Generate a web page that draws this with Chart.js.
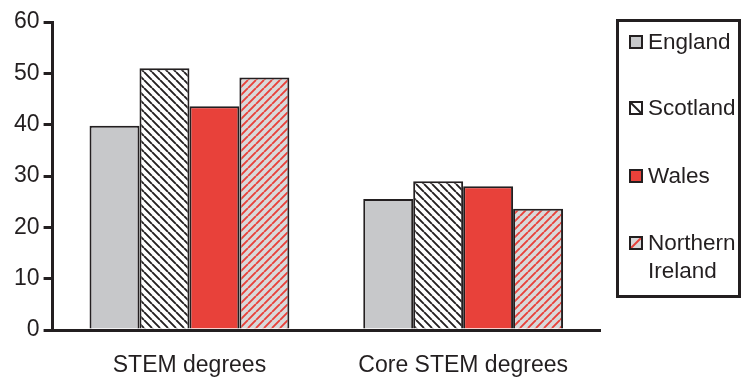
<!DOCTYPE html>
<html lang="en">
<head>
    <meta charset="UTF-8">
    <title>STEM degrees by nation</title>
    <style>
        body { margin: 0; background: #fff; font-family: "Liberation Sans", Arial, sans-serif; }
        .chartBox { position: absolute; left: 0; top: 0; width: 742px; height: 378px; }
        .legendBox {
            position: absolute; left: 616px; top: 19px; width: 119px; height: 273px;
            border: 3px solid #231f20; color: #231f20; font-size: 22.5px;
        }
        .item { position: absolute; left: 10px; display: flex; align-items: flex-start; line-height: 28px; }
        .item canvas { margin-top: 7px; margin-right: 5px; flex: none; }
    </style>
</head>
<body>
<div class="chartBox">
    <canvas id="myChart" width="742" height="378"></canvas>
</div>
<div class="legendBox" id="legend"></div>
<script src="https://cdn.jsdelivr.net/npm/chart.js"></script>
<script>
    const categories = ['STEM degrees', 'Core STEM degrees'];
    const england = [39.8, 25.5];
    const scotland = [51.0, 29.0];
    const wales = [43.6, 28.0];
    const northernIreland = [49.2, 23.6];
    const yTicks = [0, 10, 20, 30, 40, 50, 60];

    const ink = '#231f20';
    const red = '#e8413a';

    // diagonal hatch fill: dir 1 = "\" , dir -1 = "/"
    function hatch(bg, line, dir) {
        const s = 8;
        const c = document.createElement('canvas');
        c.width = s; c.height = s;
        const g = c.getContext('2d');
        g.fillStyle = bg;
        g.fillRect(0, 0, s, s);
        g.strokeStyle = line;
        g.lineWidth = 1.9;
        g.beginPath();
        for (let k = -1; k <= 1; k++) {
            if (dir > 0) {
                g.moveTo(k * s, 0); g.lineTo(k * s + s, s);
            } else {
                g.moveTo(k * s + s, 0); g.lineTo(k * s, s);
            }
        }
        g.stroke();
        return g.createPattern(c, 'repeat');
    }

    const fills = {
        England: '#c7c8ca',
        Scotland: hatch('#ffffff', ink, 1),
        Wales: red,
        'Northern Ireland': hatch('#d9d9da', red, -1)
    };

    // legend swatch look: background, line colour, direction
    const swatches = [
        ['#c7c8ca', null, 0],
        ['#ffffff', ink, 1],
        [red, null, 0],
        ['#d9d9da', red, -1]
    ];

    const data = {
        labels: categories,
        datasets: [
            { label: 'England', data: england },
            { label: 'Scotland', data: scotland },
            { label: 'Wales', data: wales },
            { label: 'Northern Ireland', data: northernIreland }
        ].map(d => Object.assign(d, {
            backgroundColor: fills[d.label],
            borderColor: ink,
            borderWidth: 2,
            borderSkipped: 'bottom',
            categoryPercentage: 0.73,
            barPercentage: 1
        }))
    };

    const font = { family: 'Liberation Sans', size: 23 };

    const config = {
        type: 'bar',
        data: data,
        options: {
            responsive: false,
            animation: false,
            layout: { padding: { top: 22, right: 142, left: 10, bottom: 0 } },
            plugins: { legend: { display: false }, tooltip: { enabled: false } },
            scales: {
                x: {
                    grid: { display: false },
                    border: { color: ink, width: 3 },
                    ticks: { color: ink, font: font, padding: 14 },
                    afterFit: ax => { ax.height = 48; }
                },
                y: {
                    min: 0, max: 60,
                    afterBuildTicks: ax => { ax.ticks = yTicks.map(v => ({ value: v })); },
                    grid: { drawOnChartArea: false, drawTicks: true, tickLength: 9, color: ink, lineWidth: 3 },
                    border: { color: ink, width: 3 },
                    ticks: { color: ink, font: font, padding: 4 }
                }
            }
        }
    };

    const myChart = new Chart(document.getElementById('myChart'), config);

    // legend box
    const legendTops = [28, 94, 162, 229];
    const legendNames = ['England', 'Scotland', 'Wales', 'Northern<br>Ireland'];
    const box = document.getElementById('legend');
    data.datasets.forEach((d, i) => {
        const item = document.createElement('div');
        item.className = 'item';
        item.style.top = (legendTops[i] - 19 - 3) + 'px';
        const sw = document.createElement('canvas');
        sw.width = 14; sw.height = 14;
        const g = sw.getContext('2d');
        const [bg, line, dir] = swatches[i];
        g.fillStyle = bg;
        g.fillRect(0, 0, 14, 14);
        if (line) {
            g.strokeStyle = line; g.lineWidth = 2;
            g.beginPath();
            if (dir > 0) { g.moveTo(1, 1); g.lineTo(13, 13); }
            else { g.moveTo(13, 1); g.lineTo(1, 13); }
            g.stroke();
        }
        g.strokeStyle = ink; g.lineWidth = 2;
        g.strokeRect(1, 1, 12, 12);
        item.appendChild(sw);
        const t = document.createElement('span');
        t.innerHTML = legendNames[i];
        item.appendChild(t);
        box.appendChild(item);
    });
</script>
</body>
</html>
